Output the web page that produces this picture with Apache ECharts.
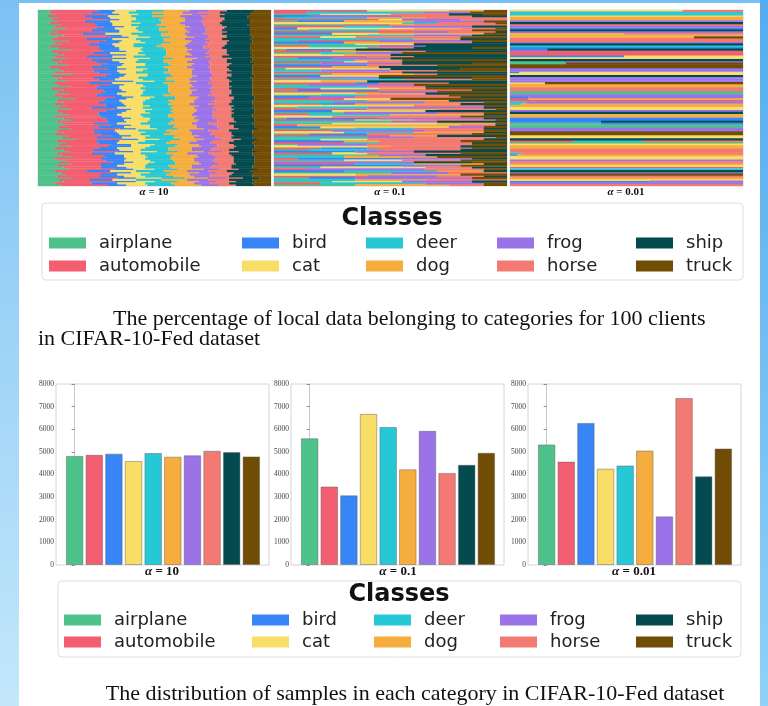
<!DOCTYPE html>
<html><head><meta charset="utf-8">
<script src="https://cdn.jsdelivr.net/npm/echarts@6/dist/echarts.min.js"></script>
<style>html,body{margin:0;padding:0;background:#fff}#c{width:768px;height:706px}</style>
</head><body><div id="c"></div>
<script>
const classes = ['airplane','automobile','bird','cat','deer','dog','frog','horse','ship','truck'];
const colors = ['#4dc38b','#f35e71','#3785f7','#f8de66','#27c8d6','#f5ae3e','#9b73e8','#f37a73','#044b4f','#714c04'];
const alphaLabels = ['10','0.1','0.01'];

// alpha = 10 : share of each class per client (dense, class order)
const rowsAlpha10 = [
"6 20 7 9 12 11 8 8 12 7","5 18 9 7 10 13 7 9 13 9","7 22 6 8 11 12 7 7 11 9","4 16 10 10 9 12 9 8 12 10","9 14 8 11 12 9 8 9 10 10",
"6 24 5 7 10 11 9 8 11 9","8 12 11 9 13 10 7 9 12 9","5 19 8 12 9 8 10 7 13 9","10 15 7 8 11 12 8 8 11 10","7 21 9 6 12 10 7 9 10 9",
"12 13 8 9 10 11 9 8 11 9","6 17 12 8 9 12 8 7 12 9","9 20 6 10 11 9 7 9 10 9","5 14 10 11 13 10 8 8 12 9","11 18 7 7 10 11 9 8 10 9",
"8 23 8 9 9 10 6 8 11 8","6 15 11 10 12 9 9 7 12 9","13 16 7 8 10 12 8 8 10 8","7 19 9 11 11 8 7 9 11 8","10 12 10 9 12 11 9 8 10 9",
"5 21 7 8 10 12 8 9 11 9","9 17 9 10 9 10 7 8 12 9","14 13 8 9 11 11 8 7 10 9","6 22 10 7 10 9 9 8 11 8","8 16 7 12 12 10 7 9 10 9",
"11 19 8 8 9 11 8 8 10 8","7 14 11 9 13 9 9 7 12 9","12 20 6 10 10 10 7 8 9 8","6 17 9 11 11 12 8 7 11 8","10 15 10 7 12 10 9 8 10 9",
"8 22 7 9 10 11 7 9 10 7","13 14 9 10 11 9 8 8 10 8","5 18 11 8 12 10 9 8 11 8","9 21 8 9 9 11 7 8 10 8","11 13 10 11 11 10 8 9 9 8",
"7 19 9 7 12 12 8 7 11 8","15 16 7 9 10 9 9 8 9 8","6 23 8 10 11 10 7 8 10 7","10 14 11 8 12 11 8 7 10 9","8 18 7 12 10 10 9 8 10 8",
"12 20 9 9 9 9 7 8 9 8","7 15 10 10 12 11 8 9 10 8","9 22 6 8 11 10 9 7 10 8","14 12 9 11 10 11 8 8 9 8","6 19 10 9 12 9 9 8 10 8",
"11 17 8 10 10 12 7 8 9 8","8 21 9 7 11 10 8 9 9 8","13 14 7 11 12 9 9 8 9 8","7 18 11 8 10 11 8 9 10 8","10 23 8 9 9 10 7 8 9 7",
"16 13 9 10 11 9 8 8 9 7","8 20 7 11 10 11 8 8 9 8","11 15 10 9 12 10 9 7 9 8","7 22 8 8 11 9 8 9 10 8","12 17 9 10 10 11 7 8 9 7",
"9 14 11 11 12 10 8 8 9 8","14 19 7 9 9 10 9 7 9 7","8 21 9 8 11 11 7 8 10 7","10 16 10 12 10 9 8 9 9 7","13 13 8 10 12 10 9 8 9 8",
"7 20 9 9 11 12 7 8 9 8","11 18 11 8 10 9 8 9 9 7","15 15 7 11 11 10 8 7 9 7","8 22 8 9 10 11 9 8 8 7","10 14 10 10 12 10 7 9 10 8",
"12 19 9 8 11 9 8 8 9 7","9 17 11 11 10 10 9 7 9 7","14 21 7 9 9 11 7 8 8 6","8 16 9 10 12 10 8 9 10 8","11 13 10 12 11 9 9 8 9 8",
"7 20 8 9 10 12 8 9 9 8","13 18 9 8 11 10 7 8 9 7","10 15 11 10 12 9 9 7 9 8","16 20 7 9 9 10 8 8 7 6","8 17 10 11 11 11 7 9 9 7",
"12 14 8 9 12 10 9 8 10 8","9 22 9 10 10 9 8 7 9 7","14 16 10 8 11 11 7 8 8 7","7 19 8 12 10 10 9 9 9 7","11 13 11 9 12 10 8 8 10 8",
"13 21 7 10 9 11 8 7 8 6","8 15 10 11 11 9 9 9 10 8","10 18 9 9 12 10 7 8 9 8","15 14 8 10 10 12 8 7 9 7","7 20 11 8 11 10 9 8 9 7",
"12 17 8 11 10 9 8 9 9 7","9 23 9 9 9 10 7 8 9 7","14 13 10 10 12 11 8 7 8 7","8 19 7 12 10 10 9 8 9 8","11 16 11 8 11 9 8 9 9 8",
"13 20 8 9 10 11 7 8 8 6","7 14 10 11 12 10 9 8 10 9","10 21 9 8 9 12 8 7 9 7","12 15 7 10 11 10 9 9 9 8","8 18 11 9 12 9 7 8 10 8",
"15 19 8 11 10 10 8 7 7 5","9 13 10 10 11 11 9 9 10 8","11 22 9 8 10 9 8 8 8 7","7 16 11 12 11 10 7 8 10 8","10 20 8 9 12 11 8 7 8 7"
];

// alpha = 0.1 : "class:share" pairs per client
const rowsAlpha01 = [
"1:40 3:35 5:15 9:10","1:14 4:50 6:20 9:16","0:20 3:30 7:25 8:15 9:10","2:15 6:40 7:30 8:15","0:5 4:35 5:25 7:35",
"1:45 3:10 6:25 7:20","0:10 2:20 5:30 6:30 9:10","3:55 4:15 7:25 9:5","0:30 1:20 5:10 7:40","1:30 4:20 6:35 8:15",
"2:10 3:50 5:20 7:15 9:5","0:15 4:30 7:40 9:15","1:60 6:15 7:20 8:5","2:25 3:20 5:45 9:10","0:40 4:20 6:25 8:15",
"1:20 3:15 7:45 9:20","4:60 5:20 8:20","0:10 1:35 6:40 9:15","2:30 5:30 7:25 8:15","0:35 3:25 8:40",
"1:15 4:30 6:20 8:35","3:40 7:20 8:25 9:15","0:5 2:30 8:65","1:25 5:25 7:15 8:35","0:20 4:15 6:20 9:45",
"3:30 5:20 8:50","1:40 7:20 8:40","0:10 2:15 6:25 8:50","4:35 5:20 9:45","1:30 3:10 7:15 8:45",
"0:20 6:35 8:30 9:15","2:40 7:30 9:30","1:25 5:20 8:55","0:5 3:45 8:30 9:20","4:20 6:30 7:20 9:30",
"1:55 8:45","0:25 5:35 7:10 8:30","2:20 3:25 9:55","1:15 6:30 8:40 9:15","0:30 4:25 7:30 9:15",
"3:20 5:20 8:60","1:35 2:10 7:30 8:25","0:15 6:45 9:40","4:40 7:25 8:35","1:20 3:25 5:20 9:35",
"0:10 2:35 7:40 8:15","1:45 6:25 9:30","3:35 5:30 8:35","0:20 4:20 7:35 9:25","2:15 6:20 7:45 8:20",
"1:30 3:20 9:50","0:40 5:35 8:25","4:25 6:40 7:25 9:10","1:20 2:15 5:45 8:20","3:60 7:30 9:10",
"0:10 4:30 6:50 8:10","1:40 5:30 7:25 9:5","2:25 3:40 8:35","0:30 6:40 7:20 9:10","1:15 4:35 5:40 8:10",
"3:25 7:55 9:20","0:5 2:40 6:45 8:10","1:35 5:25 7:35 9:5","4:50 6:20 8:30","0:25 3:45 5:25 9:5",
"1:10 5:70 7:15 8:5","2:20 3:55 6:15 9:10","0:35 4:25 7:30 8:10","1:25 6:40 7:25 9:10","3:30 4:30 5:30 8:10",
"0:15 2:25 7:45 9:15","1:50 5:20 8:30","4:40 6:20 7:35 9:5","0:20 3:20 7:50 8:10","2:30 5:15 7:35 9:20",
"1:30 4:15 7:40 8:15","0:10 6:30 7:45 9:15","3:40 5:10 7:30 8:20","1:20 2:20 7:45 9:15","0:15 4:30 7:35 8:20",
"2:35 6:25 8:40","1:25 3:15 7:40 9:20","0:45 6:20 8:35","4:30 5:40 9:30","1:10 2:45 6:30 8:15",
"0:30 3:25 7:25 9:20","6:60 8:25 9:15","1:35 4:25 5:30 8:10","2:55 6:25 9:20","0:20 3:45 7:20 8:15",
"1:15 6:50 7:25 9:10","2:30 4:40 5:20 8:10","0:50 6:25 7:25","3:35 5:45 9:20","1:40 6:30 7:20 8:10",
"0:15 2:20 6:50 9:15","4:35 5:30 7:35","0:25 3:30 6:30 8:15","1:20 4:45 6:25 9:10","0:35 5:40 7:15 9:10"
];

// alpha = 0.01 : "class:share" pairs per client
const rowsAlpha001 = [
"3:74 7:26","4:100","4:100","3:100","5:100","5:100","6:100","8:100","7:100","6:100",
"2:100","8:100","6:100","5:49 7:51","5:100","5:79 9:21","7:100","7:100","6:100","8:100",
"4:100","2:100","2:16 8:84","1:100","1:100","1:100","2:49 3:51","3:100","8:100","0:23 6:77",
"0:24 9:76","9:100","9:100","6:100","6:100","2:4 3:96","3:100","8:100","6:100","6:100",
"6:100","3:15 9:85","5:100","5:100","7:100","7:100","0:100","0:100","6:100","2:8 6:92",
"1:8 5:92","1:100","4:7 6:93","4:5 5:95","5:100","3:100","3:100","6:100","8:100","5:100",
"5:100","2:100","2:100","2:39 8:61","0:39 2:61","0:100","0:100","6:100","6:100","9:100",
"9:100","3:100","3:100","8:100","1:27 4:30 7:43","0:100","3:100","5:100","5:100","7:100",
"7:100","4:5 7:95","2:3 5:97","3:100","3:100","6:100","7:100","5:100","3:100","1:100",
"4:100","8:100","6:100","9:100","7:100","5:100","3:100","2:60 6:40","6:100","7:100"
];

// total samples per class (bottom charts)
const countsAlpha10  = [4820,4870,4920,4600,4950,4790,4850,5050,4990,4800];
const countsAlpha01  = [5600,3470,3080,6680,6100,4230,5930,4070,4430,4960];
const countsAlpha001 = [5330,4570,6280,4260,4400,5060,2150,7380,3920,5150];
const yTicks = [0,1000,2000,3000,4000,5000,6000,7000,8000];

const clients = rowsAlpha10.map((_, i) => 'client ' + (i + 1));

function toShares(rows, dense) {
  const out = classes.map(() => []);
  rows.forEach(r => {
    const v = new Array(10).fill(0);
    if (dense) r.trim().split(/\s+/).forEach((x, i) => v[i] = +x);
    else r.trim().split(/\s+/).forEach(p => { const [c, s] = p.split(':'); v[+c] += +s; });
    const sum = v.reduce((a, b) => a + b, 0);
    v.forEach((x, c) => out[c].push(x / sum * 100));
  });
  return out;
}
const shares = [toShares(rowsAlpha10, true), toShares(rowsAlpha01, false), toShares(rowsAlpha001, false)];
const counts = [countsAlpha10, countsAlpha01, countsAlpha001];

const topLeft = [38, 274, 510];
const botLeft = [56, 291, 528];
const grids = [], xAxes = [], yAxes = [], series = [];
for (let k = 0; k < 3; k++) {
  grids.push({left: topLeft[k], top: 10, width: 233, height: 176, show: true, borderColor: '#d4d4d4', borderWidth: 1, backgroundColor: 'transparent'});
  xAxes.push({gridIndex: k, type: 'value', min: 0, max: 100, show: false});
  yAxes.push({gridIndex: k, type: 'category', data: clients, inverse: true, show: false});
  classes.forEach((c, ci) => series.push({
    type: 'bar', name: c, xAxisIndex: k, yAxisIndex: k, stack: 'top' + k,
    data: shares[k][ci], barWidth: '125%', itemStyle: {color: colors[ci]}, silent: true
  }));
}
for (let k = 0; k < 3; k++) {
  const g = k + 3;
  grids.push({left: botLeft[k], top: 384, width: 213, height: 181, show: true, borderColor: '#d4d4d4', borderWidth: 1, backgroundColor: 'transparent'});
  xAxes.push({gridIndex: g, type: 'value', min: -0.95, max: 9.9, show: false});
  yAxes.push({gridIndex: g, type: 'value', min: yTicks[0], max: yTicks[yTicks.length - 1], interval: 1000,
    axisLine: {show: true, lineStyle: {color: '#c8c8c8'}},
    axisTick: {show: true, length: 3, lineStyle: {color: '#888'}},
    axisLabel: {fontSize: 7.5, fontFamily: 'Liberation Serif', color: '#444', margin: 2, formatter: v => String(v)},
    splitLine: {show: false}});
  series.push({
    type: 'bar', name: 'samples α=' + alphaLabels[k], xAxisIndex: g, yAxisIndex: g, barWidth: 17.5,
    data: counts[k].map((v, i) => ({value: [i, v], itemStyle: {color: colors[i]}})),
    itemStyle: {borderColor: 'rgba(90,90,90,0.45)', borderWidth: 1}, silent: true
  });
}

const legends = [];
const legCols = [[49, 242, 366, 497, 636], [64, 252, 374, 500, 636]];
const legRows = [[243, 266], [620, 642]];
for (let b = 0; b < 2; b++) {
  classes.forEach((c, ci) => legends.push({
    data: [c], left: legCols[b][Math.floor(ci / 2)], top: legRows[b][ci % 2] - 10,
    padding: 0, itemWidth: 37, itemHeight: 11, icon: 'rect', selectedMode: false,
    textStyle: {fontFamily: 'DejaVu Sans', fontSize: 18, color: '#222', lineHeight: 20, padding: [0, 0, 0, 8]}
  }));
}

function alphaText(x, y, a, fs) {
  return {type: 'text', x: x, y: y, style: {
    text: '{a|α}{b| = ' + a + '}', align: 'center', verticalAlign: 'middle',
    rich: {a: {fontFamily: 'Liberation Serif', fontStyle: 'italic', fontWeight: 'bold', fontSize: fs, fill: '#111'},
           b: {fontFamily: 'Liberation Serif', fontWeight: 'bold', fontSize: fs, fill: '#111'}}}};
}
const graphics = [
  {type: 'rect', shape: {x: 0, y: 0, width: 19, height: 706}, z: -10, style: {fill: new echarts.graphic.LinearGradient(0, 0, 0, 1, [{offset: 0, color: '#7bc2f3'}, {offset: 1, color: '#c3e7fb'}])}},
  {type: 'rect', shape: {x: 760, y: 0, width: 8, height: 706}, z: -10, style: {fill: new echarts.graphic.LinearGradient(0, 0, 0, 1, [{offset: 0, color: '#54acef'}, {offset: 1, color: '#8fd1f8'}])}},
  {type: 'rect', shape: {x: 19, y: 0, width: 741, height: 3}, z: -10, style: {fill: '#78c0f3'}},
  {type: 'rect', shape: {x: 42, y: 203, width: 701, height: 77, r: 4}, style: {fill: '#fff', stroke: '#dedede', lineWidth: 1}},
  {type: 'rect', shape: {x: 58, y: 581, width: 683, height: 76, r: 4}, style: {fill: '#fff', stroke: '#dedede', lineWidth: 1}},
  {type: 'text', x: 392, y: 219, style: {text: 'Classes', align: 'center', verticalAlign: 'middle', font: 'bold 24px "DejaVu Sans"', fill: '#111'}},
  {type: 'text', x: 399, y: 595, style: {text: 'Classes', align: 'center', verticalAlign: 'middle', font: 'bold 24px "DejaVu Sans"', fill: '#111'}},
  alphaText(154, 192, alphaLabels[0], 11), alphaText(390, 192, alphaLabels[1], 11), alphaText(626, 192, alphaLabels[2], 11),
  alphaText(162, 572, alphaLabels[0], 13), alphaText(398, 572, alphaLabels[1], 13), alphaText(634, 572, alphaLabels[2], 13),
  {type: 'text', x: 113, y: 319, style: {text: 'The percentage of local data belonging to categories for 100 clients', verticalAlign: 'middle', font: '22px "Liberation Serif"', fill: '#111'}},
  {type: 'text', x: 38, y: 339, style: {text: 'in CIFAR-10-Fed dataset', verticalAlign: 'middle', font: '22px "Liberation Serif"', fill: '#111'}},
  {type: 'text', x: 415, y: 694, style: {text: 'The distribution of samples in each category in CIFAR-10-Fed dataset', align: 'center', verticalAlign: 'middle', font: '22px "Liberation Serif"', fill: '#111'}}
];

const chart = echarts.init(document.getElementById('c'), null, {renderer: 'canvas'});
chart.setOption({
  animation: false,
  backgroundColor: '#fff',
  grid: grids, xAxis: xAxes, yAxis: yAxes, series: series,
  legend: legends, graphic: graphics, tooltip: {show: false}
});
</script></body></html>
